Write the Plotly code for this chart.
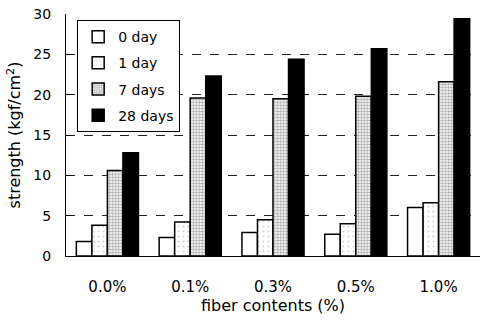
import plotly.graph_objects as go

categories = ["0.0%", "0.1%", "0.3%", "0.5%", "1.0%"]
series_names = ["0 day", "1 day", "7 days", "28 days"]
day0 = [1.8, 2.3, 2.9, 2.7, 6.0]
day1 = [3.8, 4.2, 4.5, 4.0, 6.6]
day7 = [10.6, 19.6, 19.5, 19.8, 21.6]
day28 = [12.8, 22.3, 24.4, 25.7, 29.4]
y_ticks = [0, 5, 10, 15, 20, 25, 30]

values = [day0, day1, day7, day28]
fills = [
    dict(color="white", line=dict(color="black", width=1.5)),
    dict(color="white", line=dict(color="black", width=1.5),
         pattern=dict(shape=".", fgcolor="#aaaaaa", size=5, solidity=0.15)),
    dict(color="white", line=dict(color="black", width=1.5),
         pattern=dict(shape=".", fgcolor="#666666", size=3, solidity=0.55)),
    dict(color="black", line=dict(color="black", width=1.5)),
]

fig = go.Figure()
for name, vals, mk in zip(series_names, values, fills):
    fig.add_trace(go.Bar(x=categories, y=vals, name=name, marker=mk,
                         legendgroup=name))

font = "DejaVu Sans, sans-serif"
fig.update_layout(
    width=480, height=321,
    margin=dict(l=66, r=0, t=14, b=65),
    paper_bgcolor="white", plot_bgcolor="white",
    barmode="group", bargap=0.25, bargroupgap=0,
    font=dict(family=font, color="black", size=14),
    legend=dict(x=0.027, y=0.975, xanchor="left", yanchor="top",
                bgcolor="white", bordercolor="black", borderwidth=1,
                font=dict(size=14), tracegroupgap=5, itemwidth=30),
    xaxis=dict(showline=True, linecolor="black", linewidth=1,
               ticks="", ticklabelstandoff=17,
               tickfont=dict(size=15),
               title=dict(text="fiber contents (%)", font=dict(size=16), standoff=4)),
    yaxis=dict(range=[0, 30], tickvals=y_ticks, showline=True, linecolor="black",
               linewidth=1, ticks="inside", ticklen=5, tickcolor="black",
               ticklabelstandoff=11, tickfont=dict(size=14),
               showgrid=True, gridcolor="#222222", griddash="dash", gridwidth=1,
               zeroline=False,
               title=dict(text="strength (kgf/cm<sup>2</sup>)", font=dict(size=16), standoff=8)),
)

fig.write_html("out.html", config={"displayModeBar": False},
               post_script="document.body.style.margin='0';")
